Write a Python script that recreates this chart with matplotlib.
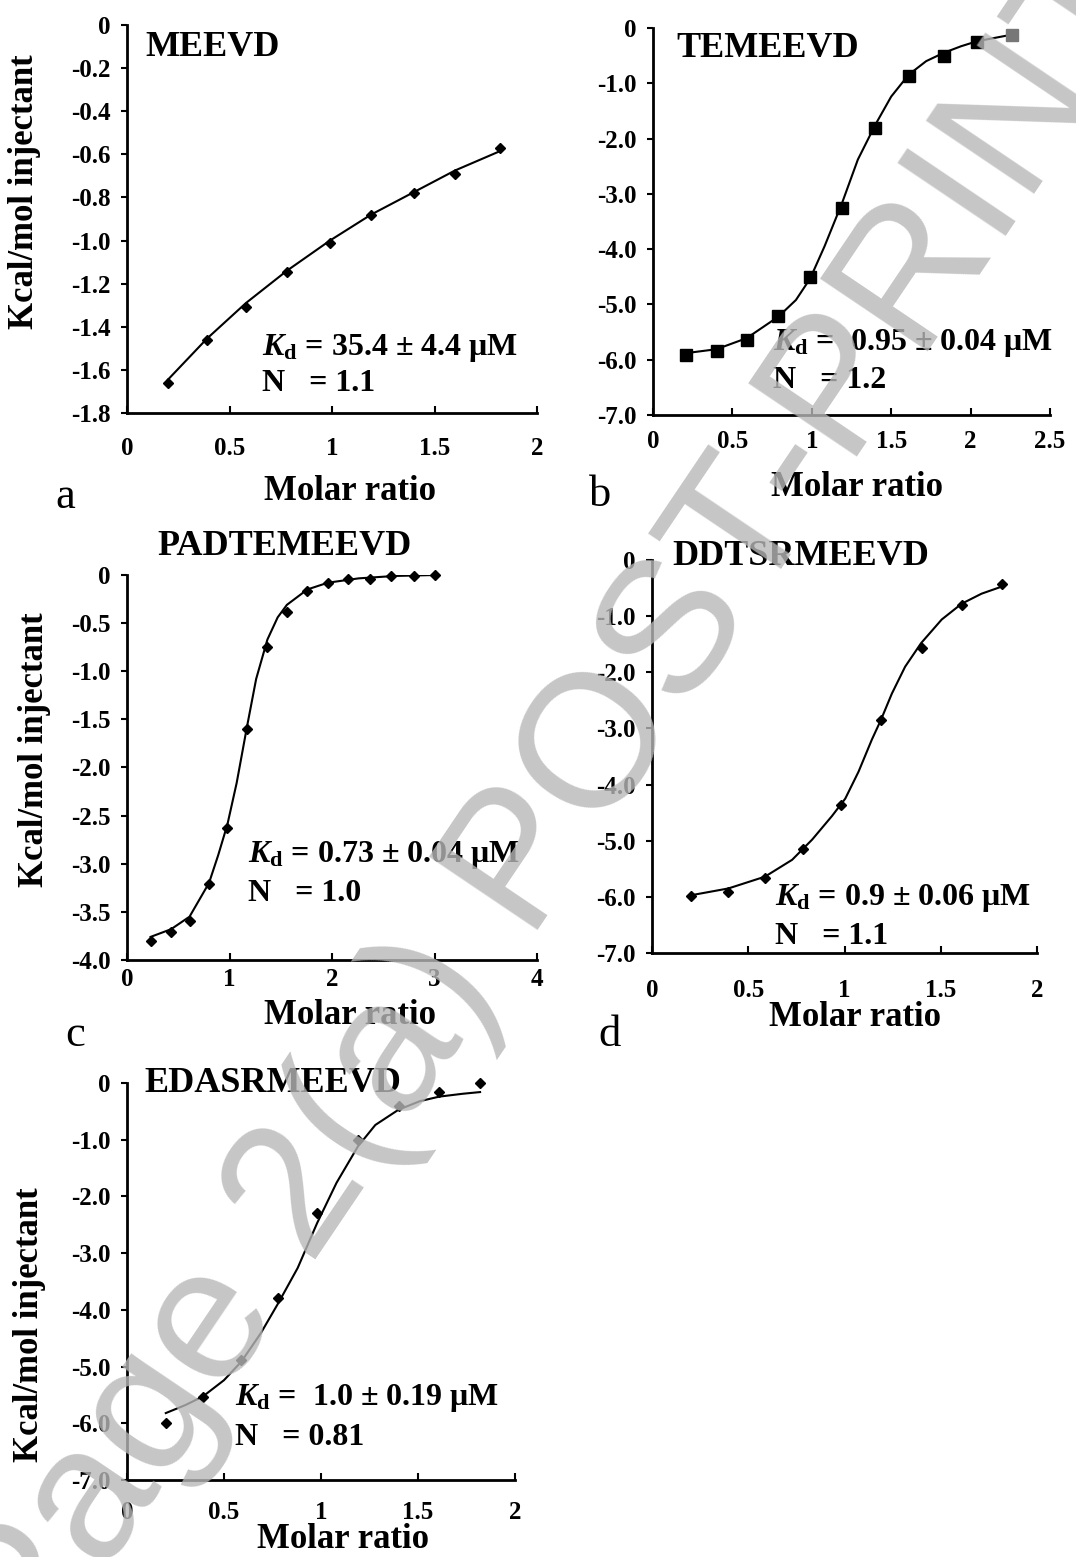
import matplotlib
matplotlib.use("Agg")
import matplotlib.pyplot as plt

plt.rcParams['font.family'] = ['Liberation Serif', 'DejaVu Serif']
plt.rcParams['font.weight'] = 'bold'
plt.rcParams['mathtext.fontset'] = 'custom'
plt.rcParams['mathtext.it'] = 'Liberation Serif:italic:bold'
plt.rcParams['mathtext.rm'] = 'Liberation Serif:bold'

W, H = 1076, 1557

# ---- data ----
# a: MEEVD
a_x = [0.20, 0.39, 0.58, 0.78, 0.99, 1.19, 1.40, 1.60, 1.82]
a_y = [-1.66, -1.46, -1.31, -1.145, -1.01, -0.88, -0.78, -0.69, -0.57]
a_fit_x = [0.20, 0.39, 0.58, 0.78, 0.99, 1.19, 1.40, 1.60, 1.82]
a_fit_y = [-1.645, -1.455, -1.29, -1.14, -1.0, -0.88, -0.775, -0.675, -0.585]

# b: TEMEEVD
b_x = [0.21, 0.40, 0.59, 0.79, 0.99, 1.19, 1.40, 1.61, 1.83, 2.04, 2.26]
b_y = [-5.91, -5.85, -5.64, -5.21, -4.50, -3.26, -1.81, -0.875, -0.50, -0.26, -0.12]
b_fit_x = [0.21, 0.40, 0.59, 0.79, 0.90, 0.99, 1.08, 1.19, 1.29, 1.40, 1.50,
           1.61, 1.72, 1.83, 1.94, 2.04, 2.26]
b_fit_y = [-5.88, -5.81, -5.61, -5.22, -4.92, -4.53, -3.95, -3.17, -2.38, -1.75,
           -1.24, -0.845, -0.60, -0.45, -0.33, -0.24, -0.12]

# c: PADTEMEEVD
c_x = [0.23, 0.43, 0.61, 0.80, 0.98, 1.17, 1.37, 1.56, 1.76, 1.96, 2.16, 2.37,
       2.58, 2.80, 3.00]
c_y = [-3.80, -3.71, -3.60, -3.21, -2.63, -1.60, -0.75, -0.38, -0.165, -0.08,
       -0.04, -0.04, -0.01, -0.01, 0.0]
c_fit_x = [0.23, 0.43, 0.61, 0.80, 0.89, 0.98, 1.07, 1.17, 1.26, 1.37, 1.47,
           1.56, 1.76, 1.96, 2.26, 2.61, 3.01]
c_fit_y = [-3.76, -3.68, -3.55, -3.20, -2.91, -2.59, -2.16, -1.58, -1.08, -0.67,
           -0.44, -0.31, -0.15, -0.08, -0.035, -0.01, 0.0]

# d: DDTSRMEEVD
d_x = [0.205, 0.397, 0.587, 0.785, 0.984, 1.19, 1.40, 1.61, 1.82]
d_y = [-5.99, -5.91, -5.67, -5.15, -4.36, -2.85, -1.56, -0.81, -0.42]
d_fit_x = [0.205, 0.397, 0.587, 0.728, 0.832, 0.935, 1.004, 1.073, 1.142, 1.189,
           1.246, 1.315, 1.398, 1.505, 1.608, 1.712, 1.82]
d_fit_y = [-5.97, -5.85, -5.64, -5.34, -4.98, -4.56, -4.25, -3.77, -3.20, -2.85,
           -2.38, -1.90, -1.48, -1.06, -0.78, -0.60, -0.47]

# e: EDASRMEEVD
e_x = [0.20, 0.39, 0.59, 0.78, 0.98, 1.19, 1.40, 1.61, 1.82]
e_y = [-6.0, -5.53, -4.88, -3.79, -2.29, -1.0, -0.41, -0.15, 0.0]
e_fit_x = [0.20, 0.30, 0.39, 0.50, 0.59, 0.69, 0.78, 0.88, 0.98, 1.08, 1.19,
           1.28, 1.40, 1.51, 1.61, 1.73, 1.82]
e_fit_y = [-5.82, -5.68, -5.53, -5.24, -4.91, -4.41, -3.88, -3.26, -2.47, -1.76,
           -1.12, -0.74, -0.47, -0.32, -0.24, -0.19, -0.16]

# ticks
a_yticks = [0, -0.2, -0.4, -0.6, -0.8, -1.0, -1.2, -1.4, -1.6, -1.8]
a_ylabels = ['0', '-0.2', '-0.4', '-0.6', '-0.8', '-1.0', '-1.2', '-1.4', '-1.6', '-1.8']
a_xticks = [0, 0.5, 1, 1.5, 2]
a_xlabels = ['0', '0.5', '1', '1.5', '2']
b_xticks = [0, 0.5, 1, 1.5, 2, 2.5]
b_xlabels = ['0', '0.5', '1', '1.5', '2', '2.5']
c_yticks = [0, -0.5, -1.0, -1.5, -2.0, -2.5, -3.0, -3.5, -4.0]
c_ylabels = ['0', '-0.5', '-1.0', '-1.5', '-2.0', '-2.5', '-3.0', '-3.5', '-4.0']
c_xticks = [0, 1, 2, 3, 4]
c_xlabels = ['0', '1', '2', '3', '4']
seven_yticks = [0, -1, -2, -3, -4, -5, -6, -7]
seven_ylabels = ['0', '-1.0', '-2.0', '-3.0', '-4.0', '-5.0', '-6.0', '-7.0']

names = ['MEEVD', 'TEMEEVD', 'PADTEMEEVD', 'DDTSRMEEVD', 'EDASRMEEVD']
kd_texts = [r'$\mathit{K}_\mathrm{d}$ = 35.4 ± 4.4 μM',
            r'$\mathit{K}_\mathrm{d}$ =  0.95 ± 0.04 μM',
            r'$\mathit{K}_\mathrm{d}$ = 0.73 ± 0.04 μM',
            r'$\mathit{K}_\mathrm{d}$ = 0.9 ± 0.06 μM',
            r'$\mathit{K}_\mathrm{d}$ =  1.0 ± 0.19 μM']
n_texts = ['N   = 1.1', 'N   = 1.2', 'N   = 1.0', 'N   = 1.1', 'N   = 0.81']


def fx(x):
    return x / W


def fy(y):
    return 1 - y / H


def make_axes(x0, y0, x1, y1, xpad):
    ax = fig.add_axes([fx(x0), fy(y1), (x1 - x0) / W, (y1 - y0) / H])
    for s in ['top', 'right']:
        ax.spines[s].set_visible(False)
    for s in ['left', 'bottom']:
        ax.spines[s].set_linewidth(2.0)
    ax.tick_params(axis='x', direction='in', length=5, width=1.5, pad=xpad, labelsize=18)
    ax.tick_params(axis='y', direction='out', length=4, width=1.5, pad=8, labelsize=18)
    return ax


fig = plt.figure(figsize=(W / 100, H / 100), dpi=100)

ax_a = make_axes(127, 25, 537, 413, 17)
ax_b = make_axes(653, 28, 1050, 415, 11)
ax_c = make_axes(127, 575, 537, 960, 6)
ax_d = make_axes(652, 560, 1037, 953, 19)
ax_e = make_axes(127, 1083, 515, 1480, 15)

ax_a.plot(a_fit_x, a_fit_y, color='black', lw=1.5)
ax_a.plot(a_x, a_y, 'D', color='black', ms=5.5, clip_on=False)
ax_a.set_xlim(0, 2)
ax_a.set_ylim(-1.8, 0)
ax_a.set_xticks(a_xticks, a_xlabels)
ax_a.set_yticks(a_yticks, a_ylabels)

ax_b.plot(b_fit_x, b_fit_y, color='black', lw=1.5)
ax_b.plot(b_x[:-1], b_y[:-1], 's', color='black', ms=8, clip_on=False)
ax_b.plot(b_x[-1:], b_y[-1:], 's', color='#777777', ms=8, clip_on=False)
ax_b.set_xlim(0, 2.5)
ax_b.set_ylim(-7, 0)
ax_b.set_xticks(b_xticks, b_xlabels)
ax_b.set_yticks(seven_yticks, seven_ylabels)

ax_c.plot(c_fit_x, c_fit_y, color='black', lw=1.5)
ax_c.plot(c_x, c_y, 'D', color='black', ms=5.5, clip_on=False)
ax_c.set_xlim(0, 4)
ax_c.set_ylim(-4, 0)
ax_c.set_xticks(c_xticks, c_xlabels)
ax_c.set_yticks(c_yticks, c_ylabels)

ax_d.plot(d_fit_x, d_fit_y, color='black', lw=1.5)
ax_d.plot(d_x, d_y, 'D', color='black', ms=5.5, clip_on=False)
ax_d.set_xlim(0, 2)
ax_d.set_ylim(-7, 0)
ax_d.set_xticks(a_xticks, a_xlabels)
ax_d.set_yticks(seven_yticks, seven_ylabels)

ax_e.plot(e_fit_x, e_fit_y, color='black', lw=1.5)
ax_e.plot(e_x, e_y, 'D', color='black', ms=5.5, clip_on=False)
ax_e.set_xlim(0, 2)
ax_e.set_ylim(-7, 0)
ax_e.set_xticks(a_xticks, a_xlabels)
ax_e.set_yticks(seven_yticks, seven_ylabels)

axes = [ax_a, ax_b, ax_c, ax_d, ax_e]

# peptide names (x, y in axes fraction, alignment)
name_pos = [(0.044, 0.943, 'left'), (0.06, 0.948, 'left'), (0.385, 1.075, 'center'),
            (0.052, 1.008, 'left'), (0.046, 1.0, 'left')]
for ax, name, (x, y, ha) in zip(axes, names, name_pos):
    ax.text(x, y, name, transform=ax.transAxes, ha=ha, va='center', fontsize=26,
            fontweight='bold')

kd_pos = [(0.329, 0.168, 0.077), (0.302, 0.186, 0.09), (0.295, 0.273, 0.174),
          (0.32, 0.14, 0.041), (0.278, 0.207, 0.108)]
for ax, kd, nt, (x, y1, y2) in zip(axes, kd_texts, n_texts, kd_pos):
    ax.text(x, y1, kd, transform=ax.transAxes, ha='left', va='center', fontsize=23)
    ax.text(x, y2, nt, transform=ax.transAxes, ha='left', va='center', fontsize=23)

# axis titles, placed in figure pixels
for x, y in [(350, 492), (857, 487), (350, 1015), (855, 1017), (343, 1540)]:
    fig.text(fx(x), fy(y), 'Molar ratio', ha='center', va='center', fontsize=25)
for x, y in [(25, 192), (35, 750), (30, 1325)]:
    fig.text(fx(x), fy(y), 'Kcal/mol injectant', ha='center', va='center',
             fontsize=25, rotation=90)

for lab, x, y in [('a', 65, 497), ('b', 600, 495), ('c', 75, 1035), ('d', 610, 1035),
                  ('e', 75, 1574)]:
    fig.text(fx(x), fy(y), lab, ha='center', va='center', fontsize=32,
             fontweight='normal')

# watermark
fig.text(fx(560), fy(810), 'Page 2(a) POST-PRINT', ha='center', va='center',
         rotation=56, rotation_mode='anchor', fontsize=137, color='#b8b8b8',
         alpha=0.8, family='Liberation Sans', fontweight='normal', zorder=10)

fig.savefig('out.png', dpi=100)
